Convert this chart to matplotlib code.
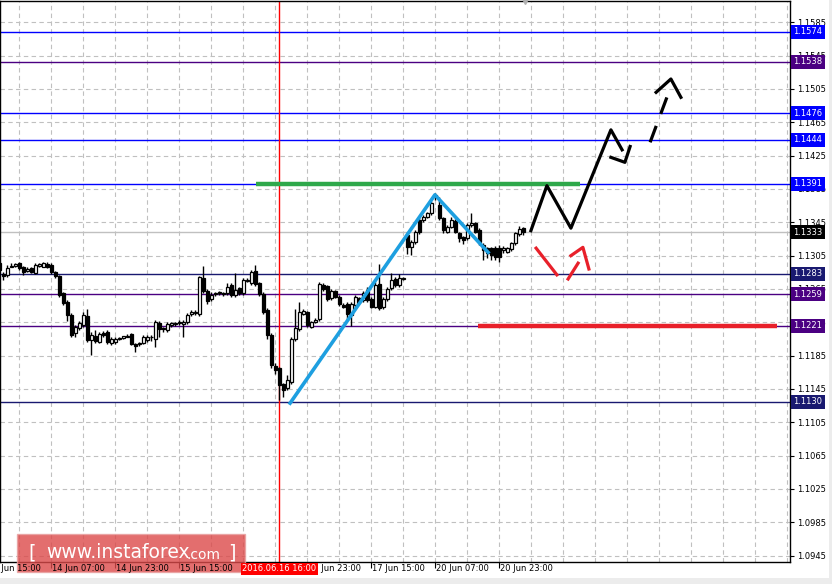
import numpy as np
import matplotlib
matplotlib.use("Agg")
import matplotlib.pyplot as plt
from matplotlib.patches import FancyBboxPatch, Rectangle

plt.rcParams['font.family'] = ['DejaVu Sans']

# ---- EURUSD H1 candles (bar index 3 .. 134) ----
first_bar = 3
opens = [1.1296, 1.1283, 1.1282, 1.1292, 1.1293, 1.1296, 1.1291, 1.1287, 1.1290, 1.1284,
         1.1293, 1.1292, 1.1295, 1.1294, 1.1285, 1.1281, 1.1260, 1.1250, 1.1234, 1.1212,
         1.1218, 1.1222, 1.1233, 1.1204, 1.1209, 1.1202, 1.1212, 1.1213, 1.1200, 1.1201,
         1.1205, 1.1206, 1.1208, 1.1211, 1.1199, 1.1199, 1.1200, 1.1204, 1.1207, 1.1205,
         1.1224, 1.1218, 1.1216, 1.1222, 1.1223, 1.1224, 1.1223, 1.1225, 1.1235, 1.1236,
         1.1235, 1.1278, 1.1263, 1.1253, 1.1259, 1.1260, 1.1260, 1.1260, 1.1270, 1.1258,
         1.1266, 1.1260, 1.1275, 1.1272, 1.1286, 1.1272, 1.1259, 1.1240, 1.1210, 1.1173,
         1.1170, 1.1151, 1.1146, 1.1153, 1.1205, 1.1217, 1.1235, 1.1237, 1.1220, 1.1226,
         1.1229, 1.1270, 1.1268, 1.1254, 1.1262, 1.1256, 1.1246, 1.1247, 1.1234, 1.1246,
         1.1254, 1.1252, 1.1264, 1.1253, 1.1244, 1.1271, 1.1243, 1.1253, 1.1266, 1.1277,
         1.1270, 1.1277, 1.1330, 1.1315, 1.1321, 1.1348, 1.1348, 1.1352, 1.1356, 1.1378,
         1.1366, 1.1350, 1.1334, 1.1340, 1.1346, 1.1332, 1.1327, 1.1326, 1.1342, 1.1344,
         1.1336, 1.1318, 1.1314, 1.1314, 1.1314, 1.1314, 1.1312, 1.1310, 1.1313, 1.1320,
         1.1331, 1.1338]
highs = [1.1300, 1.1286, 1.1294, 1.1296, 1.1296, 1.1298, 1.1293, 1.1291, 1.1292, 1.1296,
         1.1296, 1.1298, 1.1297, 1.1296, 1.1287, 1.1282, 1.1262, 1.1252, 1.1236, 1.1222,
         1.1227, 1.1238, 1.1241, 1.1213, 1.1216, 1.1214, 1.1215, 1.1216, 1.1207, 1.1207,
         1.1208, 1.1209, 1.1211, 1.1212, 1.1200, 1.1202, 1.1210, 1.1210, 1.1210, 1.1228,
         1.1227, 1.1220, 1.1226, 1.1226, 1.1226, 1.1228, 1.1228, 1.1236, 1.1240, 1.1240,
         1.1281, 1.1293, 1.1265, 1.1261, 1.1262, 1.1263, 1.1262, 1.1272, 1.1272, 1.1284,
         1.1268, 1.1278, 1.1278, 1.1288, 1.1294, 1.1274, 1.1261, 1.1242, 1.1212, 1.1176,
         1.1172, 1.1152, 1.1162, 1.1207, 1.1241, 1.1250, 1.1241, 1.1239, 1.1227, 1.1230,
         1.1273, 1.1272, 1.1270, 1.1265, 1.1264, 1.1258, 1.1248, 1.1249, 1.1249, 1.1258,
         1.1256, 1.1263, 1.1268, 1.1255, 1.1273, 1.1295, 1.1255, 1.1267, 1.1284, 1.1279,
         1.1283, 1.1280, 1.1333, 1.1324, 1.1336, 1.1351, 1.1354, 1.1358, 1.1371, 1.1380,
         1.1375, 1.1352, 1.1342, 1.1352, 1.1349, 1.1334, 1.1329, 1.1344, 1.1356, 1.1346,
         1.1338, 1.1320, 1.1316, 1.1316, 1.1317, 1.1318, 1.1317, 1.1316, 1.1322, 1.1334,
         1.1341, 1.1340]
lows = [1.1282, 1.1276, 1.1279, 1.1291, 1.1292, 1.1288, 1.1282, 1.1286, 1.1284, 1.1283,
        1.1292, 1.1291, 1.1290, 1.1283, 1.1278, 1.1256, 1.1246, 1.1227, 1.1207, 1.1208,
        1.1216, 1.1220, 1.1202, 1.1186, 1.1200, 1.1200, 1.1208, 1.1199, 1.1198, 1.1199,
        1.1204, 1.1205, 1.1207, 1.1198, 1.1189, 1.1197, 1.1199, 1.1202, 1.1203, 1.1195,
        1.1208, 1.1214, 1.1214, 1.1220, 1.1221, 1.1222, 1.1208, 1.1223, 1.1233, 1.1234,
        1.1233, 1.1260, 1.1247, 1.1251, 1.1257, 1.1258, 1.1257, 1.1258, 1.1256, 1.1256,
        1.1258, 1.1258, 1.1273, 1.1270, 1.1269, 1.1257, 1.1235, 1.1205, 1.1170, 1.1163,
        1.1132, 1.1135, 1.1144, 1.1151, 1.1203, 1.1215, 1.1234, 1.1220, 1.1218, 1.1224,
        1.1227, 1.1263, 1.1251, 1.1252, 1.1254, 1.1245, 1.1242, 1.1228, 1.1221, 1.1244,
        1.1248, 1.1250, 1.1250, 1.1242, 1.1242, 1.1240, 1.1241, 1.1251, 1.1264, 1.1268,
        1.1268, 1.1276, 1.1307, 1.1306, 1.1319, 1.1331, 1.1346, 1.1350, 1.1354, 1.1372,
        1.1348, 1.1332, 1.1332, 1.1338, 1.1332, 1.1322, 1.1319, 1.1324, 1.1340, 1.1332,
        1.1318, 1.1300, 1.1302, 1.1300, 1.1300, 1.1298, 1.1308, 1.1308, 1.1311, 1.1318,
        1.1329, 1.1330]
closes = [1.1288, 1.1281, 1.1290, 1.1293, 1.1295, 1.1290, 1.1285, 1.1289, 1.1285, 1.1294,
          1.1295, 1.1296, 1.1292, 1.1285, 1.1281, 1.1258, 1.1248, 1.1234, 1.1210, 1.1219,
          1.1224, 1.1234, 1.1204, 1.1210, 1.1203, 1.1211, 1.1210, 1.1201, 1.1205, 1.1205,
          1.1206, 1.1208, 1.1209, 1.1199, 1.1197, 1.1200, 1.1208, 1.1208, 1.1208, 1.1225,
          1.1217, 1.1217, 1.1223, 1.1224, 1.1224, 1.1225, 1.1225, 1.1234, 1.1237, 1.1237,
          1.1279, 1.1263, 1.1251, 1.1258, 1.1260, 1.1261, 1.1259, 1.1267, 1.1258, 1.1264,
          1.1260, 1.1276, 1.1276, 1.1285, 1.1271, 1.1259, 1.1237, 1.1210, 1.1174, 1.1168,
          1.1150, 1.1144, 1.1156, 1.1205, 1.1218, 1.1237, 1.1239, 1.1222, 1.1225, 1.1228,
          1.1271, 1.1265, 1.1253, 1.1263, 1.1256, 1.1247, 1.1244, 1.1235, 1.1247, 1.1256,
          1.1250, 1.1260, 1.1252, 1.1244, 1.1270, 1.1242, 1.1253, 1.1265, 1.1276, 1.1270,
          1.1278, 1.1278, 1.1315, 1.1321, 1.1333, 1.1333, 1.1352, 1.1356, 1.1368, 1.1375,
          1.1350, 1.1336, 1.1340, 1.1348, 1.1334, 1.1326, 1.1324, 1.1342, 1.1344, 1.1334,
          1.1321, 1.1312, 1.1308, 1.1306, 1.1304, 1.1304, 1.1314, 1.1314, 1.1320, 1.1332,
          1.1337, 1.1333]

# x axis time labels (every 16 bars, bar 0 = 13 Jun 15:00)
label_bars = [0, 16, 32, 48, 64, 80, 96, 112, 128]
label_text = ["13 Jun 15:00", "14 Jun 07:00", "14 Jun 23:00", "15 Jun 15:00",
              "16 Jun 07:00", "16 Jun 23:00", "17 Jun 15:00", "20 Jun 07:00", "20 Jun 23:00"]

# horizontal levels: value, colour
levels = [1.1574, 1.1538, 1.1476, 1.1444, 1.1391, 1.1283, 1.1259, 1.1221, 1.1130]
level_colors = ['#0000ff', '#4b0082', '#0000ff', '#0000ff', '#0000ff',
                '#191970', '#4b0082', '#4b0082', '#191970']
last_price = 1.1333
y_ticks = np.arange(1.0945, 1.1586, 0.004)

# crosshair
cross_bar = 73
cross_label = "2016.06.16 16:00"

# drawn analysis objects (bar index, price)
blue_x = [75.7, 111.9, 125.2]
blue_y = [1.1128, 1.1378, 1.1309]
green_x = [67.2, 148.2]
green_y = [1.1391, 1.1391]
redh_x = [122.7, 197.4]
redh_y = [1.1221, 1.1221]
black_x = [135.9, 139.9, 145.9, 155.9, 158.7]
black_y = [1.1335, 1.1389, 1.1338, 1.1456, 1.1432]
black_head_x = [155.9, 159.4, 160.7]
black_head_y = [1.1423, 1.1417, 1.1436]
dash_x = [165.7, 169.9]
dash_y = [1.1441, 1.1495]
dash_head_x = [167.2, 170.9, 173.4]
dash_head_y = [1.1501, 1.1517, 1.1495]
red_down_x = [137.2, 142.4]
red_down_y = [1.1314, 1.1282]
red_up_x = [145.2, 147.7]
red_up_y = [1.1277, 1.1296]
red_head_x = [145.9, 148.9, 150.4]
red_head_y = [1.1305, 1.1315, 1.1289]

fig = plt.figure(figsize=(8.32, 5.84), dpi=100)
ax = fig.add_axes([0, 22.5 / 584, 790 / 832, 561 / 584])
ax.set_xlim(3.175, 200.675)
ax.set_ylim(1.0938, 1.16112)

# grid
for b in range(8, 201, 8):
    ax.axvline(b, color='#c0c0c0', lw=0.8, ls=(0, (4, 3)), zorder=0)
for t in y_ticks:
    ax.axhline(t, color='#c0c0c0', lw=0.8, ls=(0, (4, 3)), zorder=0)

ax.axhline(last_price, color='#c0c0c0', lw=1, zorder=1)
for v, col in zip(levels, level_colors):
    ax.axhline(v, color=col, lw=1, zorder=1)
ax.axvline(cross_bar, color='#ff0000', lw=1, zorder=1)

# candles
bars = np.arange(first_bar, first_bar + len(opens))
o = np.array(opens); h = np.array(highs); l = np.array(lows); c = np.array(closes)
ax.vlines(bars, l, h, color='black', lw=1, zorder=3)
up = c >= o
ax.bar(bars[up], np.maximum(c[up] - o[up], 0.00003), bottom=o[up], width=0.72,
       facecolor='white', edgecolor='black', linewidth=0.9, zorder=4)
ax.bar(bars[~up], np.maximum(o[~up] - c[~up], 0.00003), bottom=c[~up], width=0.72,
       facecolor='black', edgecolor='black', linewidth=0.9, zorder=4)

# analysis drawings
ax.plot(green_x, green_y, color='#2ea84a', lw=3.2, solid_capstyle='butt', zorder=5)
ax.plot(redh_x, redh_y, color='#e8202a', lw=3.2, solid_capstyle='butt', zorder=5)
ax.plot(blue_x, blue_y, color='#1e9fe0', lw=2.6, zorder=6)
ax.plot(black_x, black_y, color='black', lw=2.3, zorder=6)
ax.plot(black_head_x, black_head_y, color='black', lw=2.3, zorder=6)
ax.plot(dash_x, dash_y, color='black', lw=2.3, ls=(0, (5.5, 4)), zorder=6)
ax.plot(dash_head_x, dash_head_y, color='black', lw=2.3, zorder=6)
ax.plot(red_down_x, red_down_y, color='#e8202a', lw=2.3, zorder=6)
ax.plot(red_up_x, red_up_y, color='#e8202a', lw=2.3, zorder=6)
ax.plot(red_head_x, red_head_y, color='#e8202a', lw=2.3, zorder=6)

# axes / ticks
for s in ax.spines.values():
    s.set_color('black')
    s.set_linewidth(1)
ax.yaxis.tick_right()
ax.set_yticks(y_ticks)
ax.set_yticklabels([f"{t:.4f}" for t in y_ticks])
ax.tick_params(axis='y', direction='out', length=3, pad=2, labelsize=6, colors='black')
ax.set_xticks([b for b in label_bars if b > 3.2])
ax.set_xticklabels([])
ax.tick_params(axis='x', direction='out', length=4, colors='black')
xt = ax.get_xaxis_transform()
for b, txt in zip(label_bars, label_text):
    ax.text(b + 0.25, -0.005, txt, transform=xt, ha='left', va='top', fontsize=6,
            clip_on=False, zorder=22)

# price labels at the right
yt = ax.get_yaxis_transform()
for v, col in zip(levels, level_colors):
    ax.text(1.004, v, f"{v:.4f}", transform=yt, ha='left', va='center', fontsize=6,
            color='white', zorder=10,
            bbox=dict(boxstyle='square,pad=0.3', fc=col, ec='none'))
ax.text(1.004, last_price, f"{last_price:.4f}", transform=yt, ha='left', va='center',
        fontsize=6, color='white', zorder=10,
        bbox=dict(boxstyle='square,pad=0.3', fc='black', ec='none'))

# crosshair date label
ax.text(cross_bar, -0.005, cross_label, transform=xt, ha='center', va='top', fontsize=6,
        color='white', zorder=23,
        bbox=dict(boxstyle='square,pad=0.2', fc='#ff0000', ec='none'))

# chart shift marker
ax.plot([134.5], [1.0], marker='v', color='#b0b0b0', ms=5, transform=xt, clip_on=False,
        zorder=10)

# watermark (semi-transparent, axis labels drawn above it)
ft = fig.transFigure
ax.add_artist(FancyBboxPatch((17 / 832, 1 - 572 / 584), 228 / 832, 38 / 584,
                             boxstyle='square,pad=0', transform=ft, clip_on=False,
                             fc='#dc4a4a', ec='#e8a0a0', lw=1, alpha=0.8, zorder=20))
ax.text(28 / 832, 1 - 553 / 584, "[", color='white', fontsize=14, va='center',
        ha='left', transform=ft, zorder=21)
ax.text(46 / 832, 1 - 553 / 584, "www.instaforex", color='white', fontsize=13.5,
        va='center', ha='left', transform=ft, zorder=21)
ax.text(186 / 832, 1 - 555 / 584, ".com", color='white', fontsize=10, va='center',
        ha='left', transform=ft, zorder=21)
ax.text(228 / 832, 1 - 553 / 584, "]", color='white', fontsize=14, va='center',
        ha='left', transform=ft, zorder=21)

# light frame at bottom / right
fig.patches.append(Rectangle((0, 0), 1, 6 / 584, transform=ft,
                             fc='#ececec', ec='none', zorder=0))
fig.patches.append(Rectangle((829 / 832, 0), 3 / 832, 1, transform=ft,
                             fc='#ececec', ec='none', zorder=0))

fig.savefig('out.png', dpi=100)
